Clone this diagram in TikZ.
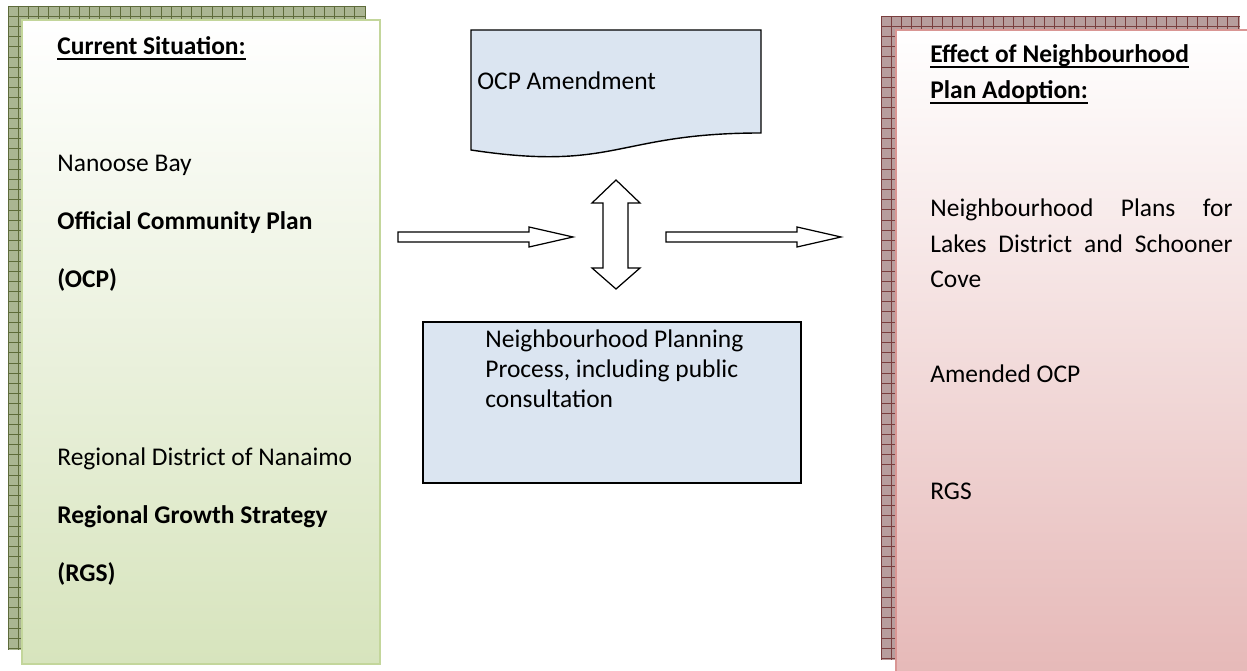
\documentclass[tikz,border=0pt]{standalone}
\usepackage{fontspec}
\setmainfont{Carlito}
\usepackage{tikz}

\definecolor{greenfill}{HTML}{D7E4BD}
\definecolor{greenline}{HTML}{C3D69B}
\definecolor{greenshade}{HTML}{AAB592}
\definecolor{greengrid}{HTML}{5E6B3A}
\definecolor{redfill}{HTML}{E6B9B8}
\definecolor{redline}{HTML}{D99694}
\definecolor{redshade}{HTML}{B79D9D}
\definecolor{redgrid}{HTML}{7A3E3E}
\definecolor{bluefill}{HTML}{DBE5F1}

% bold heading with a heavy underline
\newcommand{\headline}[1]{\setbox0\hbox{\bfseries #1}\rlap{\rule[-2.8pt]{\wd0}{1.3pt}}\box0}

\begin{document}
\begin{tikzpicture}[x=0.02cm, y=-0.02cm,
  every node/.style={font=\fontsize{14.5}{17}\selectfont, inner sep=0, anchor=base west},
  blockarrow/.style={draw=black, fill=white, line width=0.7pt, line join=miter}]
\useasboundingbox (0,0) rectangle (1247,671);
\clip (0,0) rectangle (1247,671);

% Left panel: hatched shadow, then the shaded box
\fill[greenshade] (8,6) rectangle (366,650);
\foreach \gx in {8,18.2,...,366} \draw[greengrid, line width=0.5pt] (\gx,6) -- (\gx,650);
\foreach \gy in {6,16.2,...,650} \draw[greengrid, line width=0.5pt] (8,\gy) -- (366,\gy);
\shade[top color=white, bottom color=greenfill] (22,20) rectangle (380,664);
\draw[greenline, line width=1.2pt] (22,20) rectangle (380,664);

\node (cur) at (57,55) {\headline{Current Situation:}};
\node (nanoose) at (57,172) {Nanoose Bay};
\node[font=\fontsize{14.5}{17}\selectfont\bfseries] (ocp) at (57,230) {Official Community Plan};
\node[font=\fontsize{14.5}{17}\selectfont\bfseries] (ocpabbr) at (57,288) {(OCP)};
\node (rdn) at (57,466) {Regional District of Nanaimo};
\node[font=\fontsize{14.5}{17}\selectfont\bfseries] (rgs) at (57,524) {Regional Growth Strategy};
\node[font=\fontsize{14.5}{17}\selectfont\bfseries] (rgsabbr) at (57,582) {(RGS)};

% Right panel
\fill[redshade] (881,16) rectangle (1240,660);
\foreach \gx in {881,891.2,...,1240} \draw[redgrid, line width=0.5pt] (\gx,16) -- (\gx,660);
\foreach \gy in {16,26.2,...,660} \draw[redgrid, line width=0.5pt] (881,\gy) -- (1240,\gy);
\shade[top color=white, bottom color=redfill] (896,30) rectangle (1255,674);
\draw[redline, line width=1.2pt] (896,30) rectangle (1255,674);

\node (effect) at (930,63) {\headline{Effect of Neighbourhood}};
\node (adopt) at (930,99) {\headline{Plan Adoption:}};
\node (plans) at (930,217) {\makebox[172pt][s]{Neighbourhood Plans for}};
\node (lakes) at (930,253) {\makebox[172pt][s]{Lakes District and Schooner}};
\node (cove) at (930,288) {Cove};
\node (amended) at (930,383) {Amended OCP};
\node (rgsnew) at (930,500) {RGS};

% OCP amendment document
\draw[fill=bluefill, line width=0.8pt] (471,30) -- (761,30) -- (761,133)
  .. controls (616,133) and (616,172) .. (471,150) -- cycle;
\node (amend) at (477,90) {OCP Amendment};

% planning process box
\draw[fill=bluefill, line width=0.8pt] (423,322) rectangle (801,483);
\node (proc1) at (485,348) {Neighbourhood Planning};
\node (proc2) at (485,378) {Process, including public};
\node (proc3) at (485,408) {consultation};

% block arrows
\draw[blockarrow] (398,232) -- (529,232) -- (529,227) -- (573,237) -- (529,247)
  -- (529,242) -- (398,242) -- cycle;
\draw[blockarrow] (666,232) -- (797,232) -- (797,227) -- (841,237) -- (797,247)
  -- (797,242) -- (666,242) -- cycle;
\draw[blockarrow] (616,180) -- (640,203) -- (628,203) -- (628,268) -- (640,268)
  -- (616,289) -- (592,268) -- (603,268) -- (603,203) -- (592,203) -- cycle;

\end{tikzpicture}
\end{document}
